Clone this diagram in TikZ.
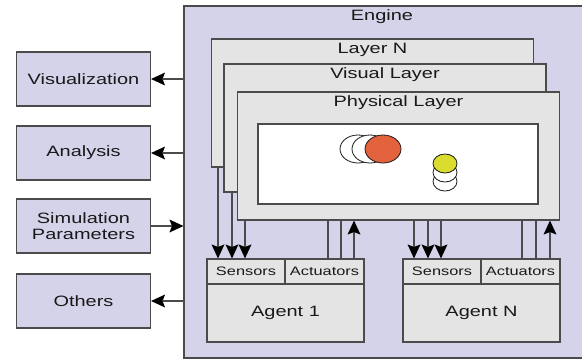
\documentclass[tikz,border=0pt]{standalone}
\usepackage{fontspec}
\setmainfont[FakeStretch=1.33]{Liberation Sans}
\usetikzlibrary{arrows.meta}
\definecolor{lav}{RGB}{213,211,234}
\definecolor{panel}{RGB}{228,228,228}
\definecolor{edge}{RGB}{75,75,75}
\definecolor{ink}{RGB}{25,25,25}
\definecolor{ballred}{RGB}{226,98,62}
\definecolor{ballyel}{RGB}{218,220,48}
\tikzset{
  every node/.style={text=ink},
  sidebox/.style={draw=edge, line width=1.1pt, fill=lav, minimum width=134pt,
    minimum height=54pt, inner sep=0pt, align=center, font=\fontsize{15}{16.5}\selectfont},
  layerbox/.style={draw=edge, line width=1.1pt, fill=panel, minimum width=322pt,
    minimum height=128pt, inner sep=0pt},
  title/.style={anchor=base, inner sep=0pt, font=\fontsize{15}{16.5}\selectfont},
  cell/.style={draw=edge, line width=1.1pt, fill=panel, minimum height=25pt,
    inner sep=0pt, font=\fontsize{12.3}{14}\selectfont},
  body/.style={draw=edge, line width=1.1pt, fill=panel, minimum width=157pt,
    minimum height=58pt, inner sep=0pt, font=\fontsize{15}{16.5}\selectfont},
  link/.style={draw=edge, line width=1.1pt},
  arr/.style={link, -{Stealth[length=14pt, width=13pt, inset=2.5pt, line width=0pt, color=black]}},
  ball/.style={draw=ink, line width=0.8pt},
}
\begin{document}
\begin{tikzpicture}[x=1pt, y=-1pt]
\useasboundingbox (0,0) rectangle (582,360);
\clip (0,0) rectangle (582,360);
\fill[white] (0,0) rectangle (582,360);

% engine frame
\node[draw=edge, line width=1.1pt, fill=lav, minimum width=406pt, minimum height=352pt,
  inner sep=0pt] (engine) at (387,182) {};
\node[title] (enginelabel) at (382,20) {Engine};

% outside modules
\node[sidebox] (vis) at (83.5,79) {Visualization};
\node[sidebox] (ana) at (83.5,153) {Analysis};
\node[sidebox] (sim) at (83.5,226) {Simulation\\Parameters};
\node[sidebox] (oth) at (83.5,301) {Others};

\draw[arr] (engine.west |- vis) -- (vis.east);
\draw[arr] (engine.west |- ana) -- (ana.east);
\draw[arr] (sim.east) -- (sim.east -| engine.west);
\draw[arr] (engine.west |- oth) -- (oth.east);

% stacked layers
\node[layerbox] (layerN) at (372.5,103) {};
\node[title] (layerNlabel) at (372.5,53) {Layer N};
\node[layerbox] (visual) at (385,128) {};
\node[title] (visuallabel) at (385,78) {Visual Layer};
\node[layerbox] (phys) at (398.5,156) {};
\node[title] (physlabel) at (398.5,106.5) {Physical Layer};

% world view of the physical layer
\node[draw=edge, line width=1.1pt, fill=white, minimum width=280pt, minimum height=80pt,
  inner sep=0pt] (world) at (398,164) {};
\draw[ball, fill=white] (358,149) ellipse [x radius=18, y radius=14];
\draw[ball, fill=white] (370,149) ellipse [x radius=18, y radius=14];
\draw[ball, fill=ballred] (383,149) ellipse [x radius=18, y radius=14];
\draw[ball, fill=white] (445,181.5) ellipse [x radius=12, y radius=9.5];
\draw[ball, fill=white] (445,172.5) ellipse [x radius=12, y radius=9.5];
\draw[ball, fill=ballyel] (445,163.5) ellipse [x radius=12, y radius=9.5];

% agents
\node[body] (ag1) at (285.5,313) {Agent 1};
\node[cell, minimum width=78pt] (sen1) at (246,271.5) {Sensors};
\node[cell, minimum width=79pt] (act1) at (324.5,271.5) {Actuators};
\node[body] (agN) at (481.5,313) {Agent N};
\node[cell, minimum width=78pt] (senN) at (442,271.5) {Sensors};
\node[cell, minimum width=79pt] (actN) at (520.5,271.5) {Actuators};

% sensor inputs
\coordinate (s1a) at ([xshift=-28pt]sen1.north);
\coordinate (s1b) at ([xshift=-14pt]sen1.north);
\coordinate (s1c) at ([xshift=-1pt]sen1.north);
\draw[arr] (layerN.south -| s1a) -- (s1a);
\draw[arr] (visual.south -| s1b) -- (s1b);
\draw[arr] (phys.south -| s1c) -- (s1c);

\coordinate (sNa) at ([xshift=-28pt]senN.north);
\coordinate (sNb) at ([xshift=-14pt]senN.north);
\coordinate (sNc) at ([xshift=-1pt]senN.north);
\draw[arr] (phys.south -| sNa) -- (sNa);
\draw[arr] (phys.south -| sNb) -- (sNb);
\draw[arr] (phys.south -| sNc) -- (sNc);

% actuator outputs
\coordinate (a1a) at ([xshift=3.5pt]act1.north);
\coordinate (a1b) at ([xshift=16.5pt]act1.north);
\coordinate (a1c) at ([xshift=29.5pt]act1.north);
\draw[link] (a1a) -- (a1a |- phys.south);
\draw[link] (a1b) -- (a1b |- phys.south);
\draw[arr] (a1c) -- (a1c |- phys.south);

\coordinate (aNa) at ([xshift=1.5pt]actN.north);
\coordinate (aNb) at ([xshift=15.5pt]actN.north);
\coordinate (aNc) at ([xshift=29.5pt]actN.north);
\draw[link] (aNa) -- (aNa |- phys.south);
\draw[link] (aNb) -- (aNb |- phys.south);
\draw[arr] (aNc) -- (aNc |- phys.south);
\end{tikzpicture}
\end{document}
